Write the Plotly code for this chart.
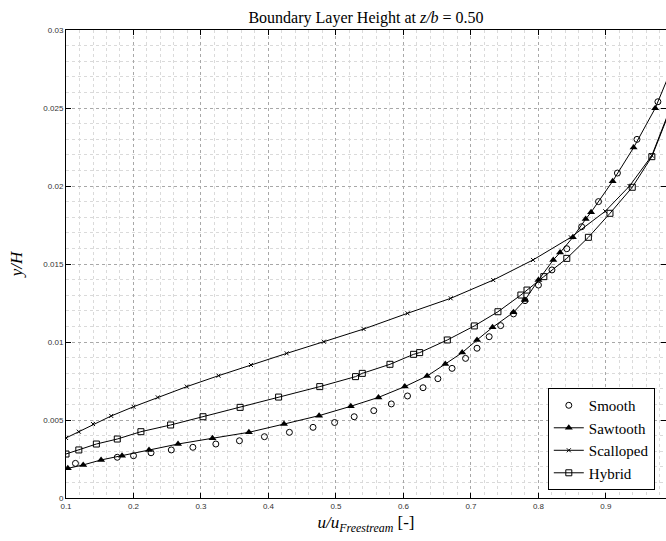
import plotly.graph_objects as go

# ---- data ----
smooth_x = [0.114, 0.176, 0.200, 0.226, 0.256, 0.288, 0.322, 0.357, 0.394, 0.431, 0.466, 0.498,
            0.527, 0.556, 0.582, 0.606, 0.629, 0.651, 0.672, 0.692, 0.709, 0.727, 0.744, 0.763,
            0.780, 0.800, 0.820, 0.842, 0.864, 0.889, 0.917, 0.946, 0.977]
smooth_y = [0.00222, 0.00261, 0.00271, 0.00290, 0.00308, 0.00325, 0.00346, 0.00367, 0.00393, 0.00421,
            0.00453, 0.00484, 0.00521, 0.00560, 0.00603, 0.00654, 0.00707, 0.00765, 0.00831, 0.00895,
            0.00960, 0.01034, 0.01105, 0.01180, 0.01265, 0.01365, 0.01462, 0.01598, 0.01739, 0.01900,
            0.02083, 0.02299, 0.02540]

saw_x = [0.1027, 0.1255, 0.152, 0.183, 0.223, 0.266, 0.317, 0.371, 0.423, 0.475, 0.522, 0.563,
         0.602, 0.635, 0.662, 0.687, 0.709, 0.732, 0.763, 0.780, 0.800, 0.822, 0.832, 0.851,
         0.870, 0.878, 0.910, 0.941, 0.973, 1.000]
saw_y = [0.00190, 0.00212, 0.00244, 0.00271, 0.00308, 0.00346, 0.00383, 0.00421, 0.00474, 0.00528,
         0.00588, 0.00645, 0.00714, 0.00782, 0.00859, 0.00932, 0.01013, 0.01094, 0.01190, 0.01269,
         0.01397, 0.01526, 0.01573, 0.01671, 0.01788, 0.01832, 0.02031, 0.02246, 0.02498, 0.02780]

scal_x = [0.100, 0.119, 0.140, 0.167, 0.200, 0.236, 0.279, 0.326, 0.374, 0.427, 0.482, 0.541,
          0.606, 0.670, 0.733, 0.792, 0.848, 0.899, 0.935, 0.968, 1.000]
scal_y = [0.00385, 0.00425, 0.00474, 0.00526, 0.00585, 0.00645, 0.00714, 0.00784, 0.00853, 0.00927,
          0.01002, 0.01083, 0.01184, 0.01280, 0.01397, 0.01526, 0.01671, 0.01838, 0.02000, 0.02195,
          0.02550]

hyb_x = [0.100, 0.119, 0.145, 0.176, 0.211, 0.255, 0.303, 0.358, 0.415, 0.476, 0.529, 0.539,
         0.580, 0.615, 0.624, 0.665, 0.705, 0.740, 0.774, 0.783, 0.808, 0.842, 0.874, 0.906,
         0.939, 0.968, 1.000]
hyb_y = [0.00282, 0.00308, 0.00346, 0.00378, 0.00425, 0.00468, 0.00521, 0.00581, 0.00647, 0.00714,
         0.00778, 0.00799, 0.00857, 0.00921, 0.00932, 0.01013, 0.01103, 0.01194, 0.01301, 0.01333,
         0.01419, 0.01536, 0.01671, 0.01825, 0.01992, 0.02188, 0.02540]

x_ticks = [0.1, 0.2, 0.3, 0.4, 0.5, 0.6, 0.7, 0.8, 0.9]
x_labels = ["0.1", "0.2", "0.3", "0.4", "0.5", "0.6", "0.7", "0.8", "0.9"]
y_ticks = [0, 0.005, 0.01, 0.015, 0.02, 0.025, 0.03]
y_labels = ["0", "0.005", "0.01", "0.015", "0.02", "0.025", "0.03"]

SERIF = "Liberation Serif, DejaVu Serif, serif"
SANS = "Liberation Sans, Arial, sans-serif"

fig = go.Figure()
fig.add_trace(go.Scatter(x=smooth_x, y=smooth_y, mode="markers", name="Smooth",
                         marker=dict(symbol="circle-open", size=6, color="black", line=dict(width=1))))
fig.add_trace(go.Scatter(x=saw_x, y=saw_y, mode="lines+markers", name="Sawtooth",
                         line=dict(color="black", width=1),
                         marker=dict(symbol="triangle-up", size=7, color="black")))
fig.add_trace(go.Scatter(x=scal_x, y=scal_y, mode="lines+markers", name="Scalloped",
                         line=dict(color="black", width=1),
                         marker=dict(symbol="x-thin-open", size=4, color="black", line=dict(width=1))))
fig.add_trace(go.Scatter(x=hyb_x, y=hyb_y, mode="lines+markers", name="Hybrid",
                         line=dict(color="black", width=1),
                         marker=dict(symbol="square-open", size=6, color="black", line=dict(width=1))))

axis_common = dict(
    showline=True, linecolor="black", linewidth=1, mirror="ticks",
    ticks="inside", ticklen=5, tickcolor="black",
    showgrid=True, gridcolor="#a8a8a8", griddash="dot", gridwidth=1,
    zeroline=False,
    tickfont=dict(family=SANS, size=8, color="#333333"),
)

fig.update_xaxes(range=[0.1, 0.989], tickvals=x_ticks, ticktext=x_labels,
                 minor=dict(dtick=0.02, showgrid=True, gridcolor="#dadada", griddash="dot", gridwidth=1),
                 title=dict(text="<i>u/u</i><sub><i>Freestream</i></sub> [-]",
                            font=dict(family=SERIF, size=17, color="black"), standoff=6),
                 **axis_common)
fig.update_yaxes(range=[0, 0.03], tickvals=y_ticks, ticktext=y_labels,
                 minor=dict(dtick=0.001, showgrid=True, gridcolor="#dadada", griddash="dot", gridwidth=1),
                 title=dict(text="<i>y/H</i>", font=dict(family=SERIF, size=17, color="black"), standoff=16),
                 **axis_common)

fig.update_layout(
    width=666, height=541,
    margin=dict(l=66, r=0, t=30, b=43),
    paper_bgcolor="white", plot_bgcolor="white",
    title=dict(text="Boundary Layer Height at <i>z/b</i> = 0.50", x=0.5496, xanchor="center",
               y=0.978, yanchor="top", font=dict(family=SERIF, size=16, color="black")),
    legend=dict(x=0.803, y=0.017, xanchor="left", yanchor="bottom",
                bgcolor="white", bordercolor="black", borderwidth=1,
                font=dict(family=SERIF, size=15, color="black"),
                tracegroupgap=0, itemwidth=30),
    showlegend=True,
)

fig.write_html("out.html")
